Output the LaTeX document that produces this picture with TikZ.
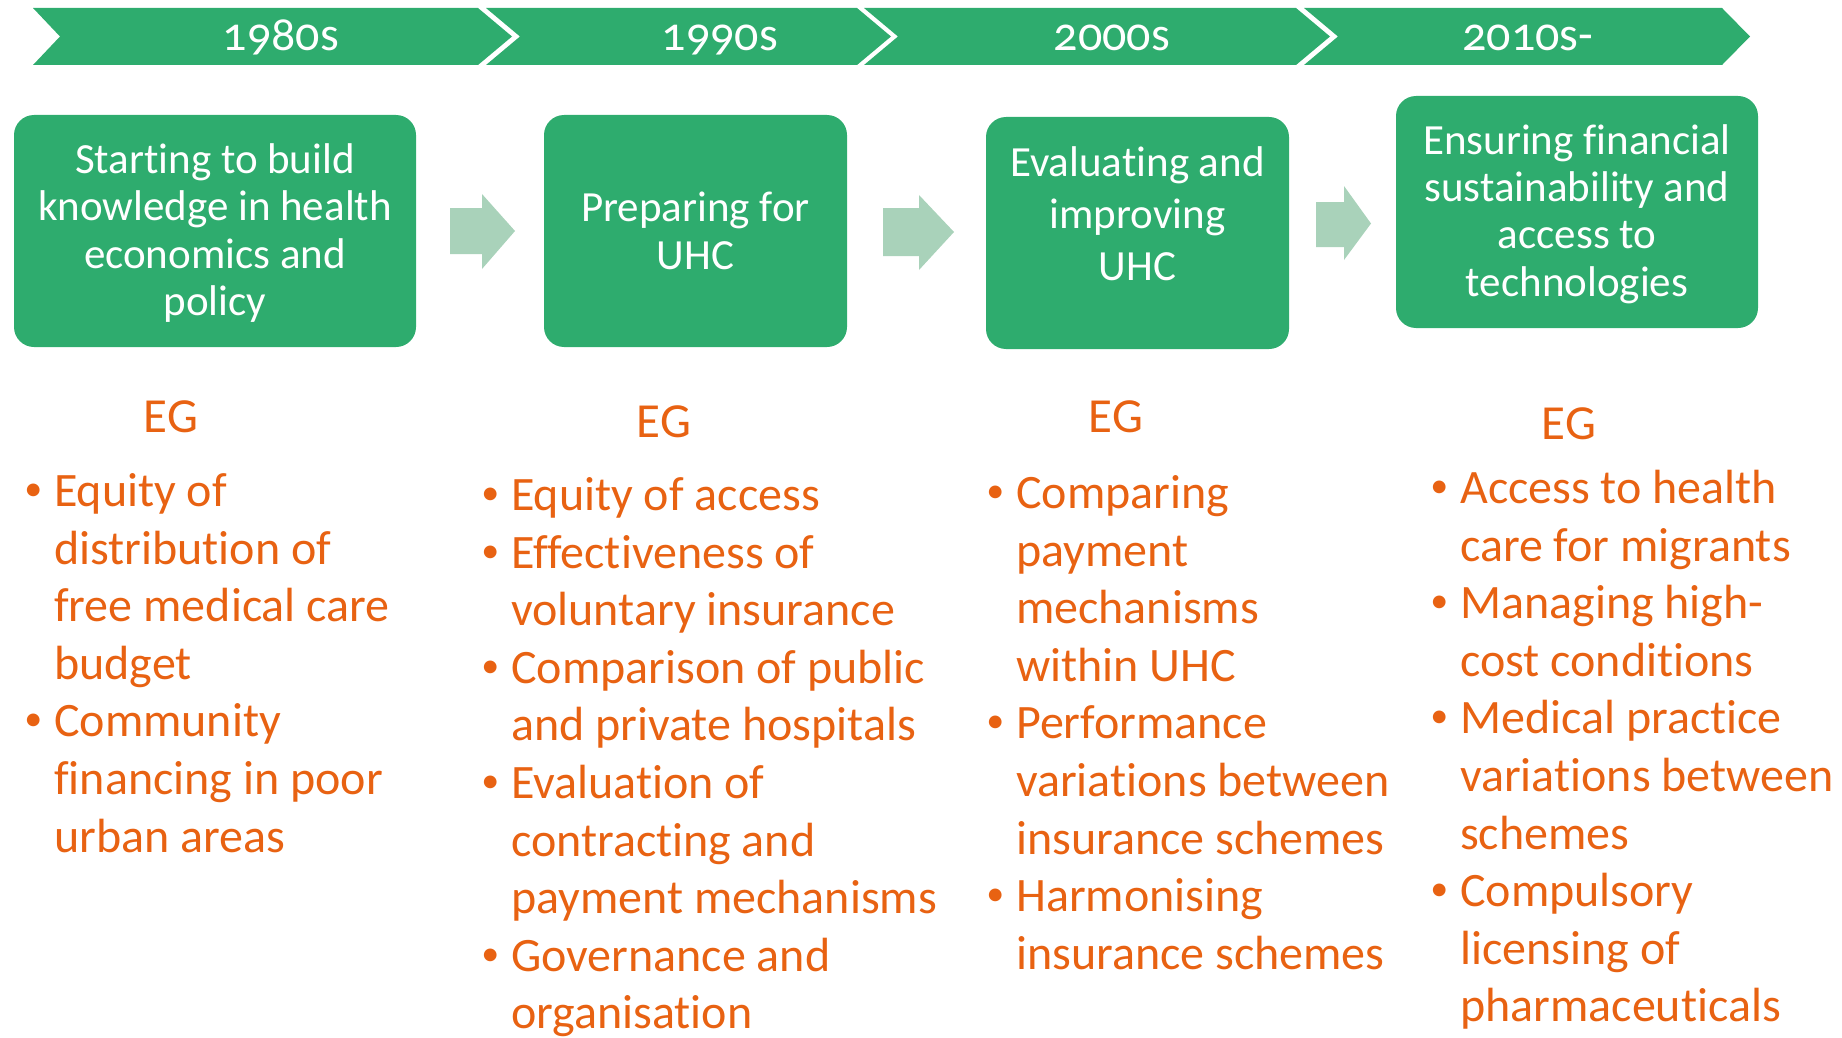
\documentclass[tikz,border=0pt]{standalone}
\usepackage{fontspec}
\setmainfont[Ligatures=NoCommon]{Carlito}
\newfontfamily\yearfont[Numbers=OldStyle,Ligatures=NoCommon]{Carlito}
\definecolor{greenA}{RGB}{46,172,110}
\definecolor{greenL}{RGB}{169,210,186}
\definecolor{orangeA}{RGB}{232,98,18}
\newcommand\bul{\llap{\raisebox{6pt}{\fontsize{36}{36}\selectfont •}\hspace{12pt}}}
\tikzset{
  chev/.style={fill=greenA, draw=none},
  yearlbl/.style={text=white, anchor=base, inner sep=0pt, font=\yearfont\fontsize{48}{50}\selectfont},
  greenbox/.style={fill=greenA, draw=none, rounded corners=20pt, inner sep=0pt},
  boxtext/.style={text=white, align=center, inner sep=0pt, font=\fontsize{43}{47.4}\selectfont},
  blockarrow/.style={fill=greenL, draw=none},
  ortext/.style={text=orangeA, anchor=base west, inner sep=0pt, font=\fontsize{48}{57.6}\selectfont},
  eglbl/.style={text=orangeA, anchor=base, inner sep=0pt, font=\fontsize{49}{57.6}\selectfont}
}
\begin{document}
\begin{tikzpicture}[x=1pt,y=-1pt]
\useasboundingbox (0,0) rectangle (1842,1038);
% timeline chevrons
\fill[chev] (33,8) -- (478,8) -- (512,36.5) -- (478,65) -- (33,65) -- (60,36.5) -- cycle;
\fill[chev] (486,8) -- (857,8) -- (891,36.5) -- (857,65) -- (486,65) -- (520,36.5) -- cycle;
\fill[chev] (864,8) -- (1296,8) -- (1330,36.5) -- (1296,65) -- (864,65) -- (898,36.5) -- cycle;
\fill[chev] (1304,8) -- (1722,8) -- (1750,36.5) -- (1722,65) -- (1304,65) -- (1338,36.5) -- cycle;
\node[yearlbl] (y1) at (281,51) {1980s};
\node[yearlbl] (y2) at (720,51) {1990s};
\node[yearlbl] (y3) at (1112,51) {2000s};
\node[yearlbl] (y4) at (1528,51) {2010s-};
% boxes
\node[greenbox, minimum width=402pt, minimum height=232pt] (b1) at (215,231) {};
\node[greenbox, minimum width=303pt, minimum height=232pt] (b2) at (695.5,231) {};
\node[greenbox, minimum width=303pt, minimum height=232pt] (b3) at (1137.5,233) {};
\node[greenbox, minimum width=362pt, minimum height=232pt] (b4) at (1577,212) {};
\node[boxtext] (t1) at (215,233) {Starting to build\\knowledge in health\\economics and\\policy};
\node[boxtext] (t2) at (695.5,231) {Preparing for\\UHC};
\node[boxtext, font=\fontsize{43}{52}\selectfont] (t3) at (1137.5,213.5) {Evaluating and\\improving\\UHC};
\node[boxtext] (t4) at (1577,214) {Ensuring financial\\sustainability and\\access to\\technologies};
% block arrows
\fill[blockarrow] (450,208) -- (482,208) -- (482,194) -- (515,231) -- (482,269) -- (482,254) -- (450,254) -- cycle;
\fill[blockarrow] (883,208) -- (919,208) -- (919,195) -- (954,232) -- (919,270) -- (919,256) -- (883,256) -- cycle;
\fill[blockarrow] (1316,202) -- (1344,202) -- (1344,186) -- (1371,223.5) -- (1344,260) -- (1344,247) -- (1316,247) -- cycle;
% EG labels
\node[eglbl] (eg1) at (171,432) {EG};
\node[eglbl] (eg2) at (664,437) {EG};
\node[eglbl] (eg3) at (1116,432) {EG};
\node[eglbl] (eg4) at (1569,439) {EG};
% column 1
\foreach \t [count=\i from 0] in {{\bul Equity of},{distribution of},{free medical care},{budget},{\bul Community},{financing in poor},{urban areas}}
  \node[ortext] (c1-\i) at (54,{506.5+57.6*\i}) {\t};
% column 2
\foreach \t [count=\i from 0] in {{\bul Equity of access},{\bul Effectiveness of},{voluntary insurance},{\bul Comparison of public},{and private hospitals},{\bul Evaluation of},{contracting and},{payment mechanisms},{\bul Governance and},{organisation}}
  \node[ortext] (c2-\i) at (511,{510.5+57.6*\i}) {\t};
% column 3
\foreach \t [count=\i from 0] in {{\bul Comparing},{payment},{mechanisms},{within UHC},{\bul Performance},{variations between},{insurance schemes},{\bul Harmonising},{insurance schemes}}
  \node[ortext] (c3-\i) at (1016,{508.5+57.6*\i}) {\t};
% column 4
\foreach \t [count=\i from 0] in {{\bul Access to health},{care for migrants},{\bul Managing high-},{cost conditions},{\bul Medical practice},{variations between},{schemes},{\bul Compulsory},{licensing of},{pharmaceuticals}}
  \node[ortext] (c4-\i) at (1460,{503.5+57.6*\i}) {\t};
\end{tikzpicture}
\end{document}
